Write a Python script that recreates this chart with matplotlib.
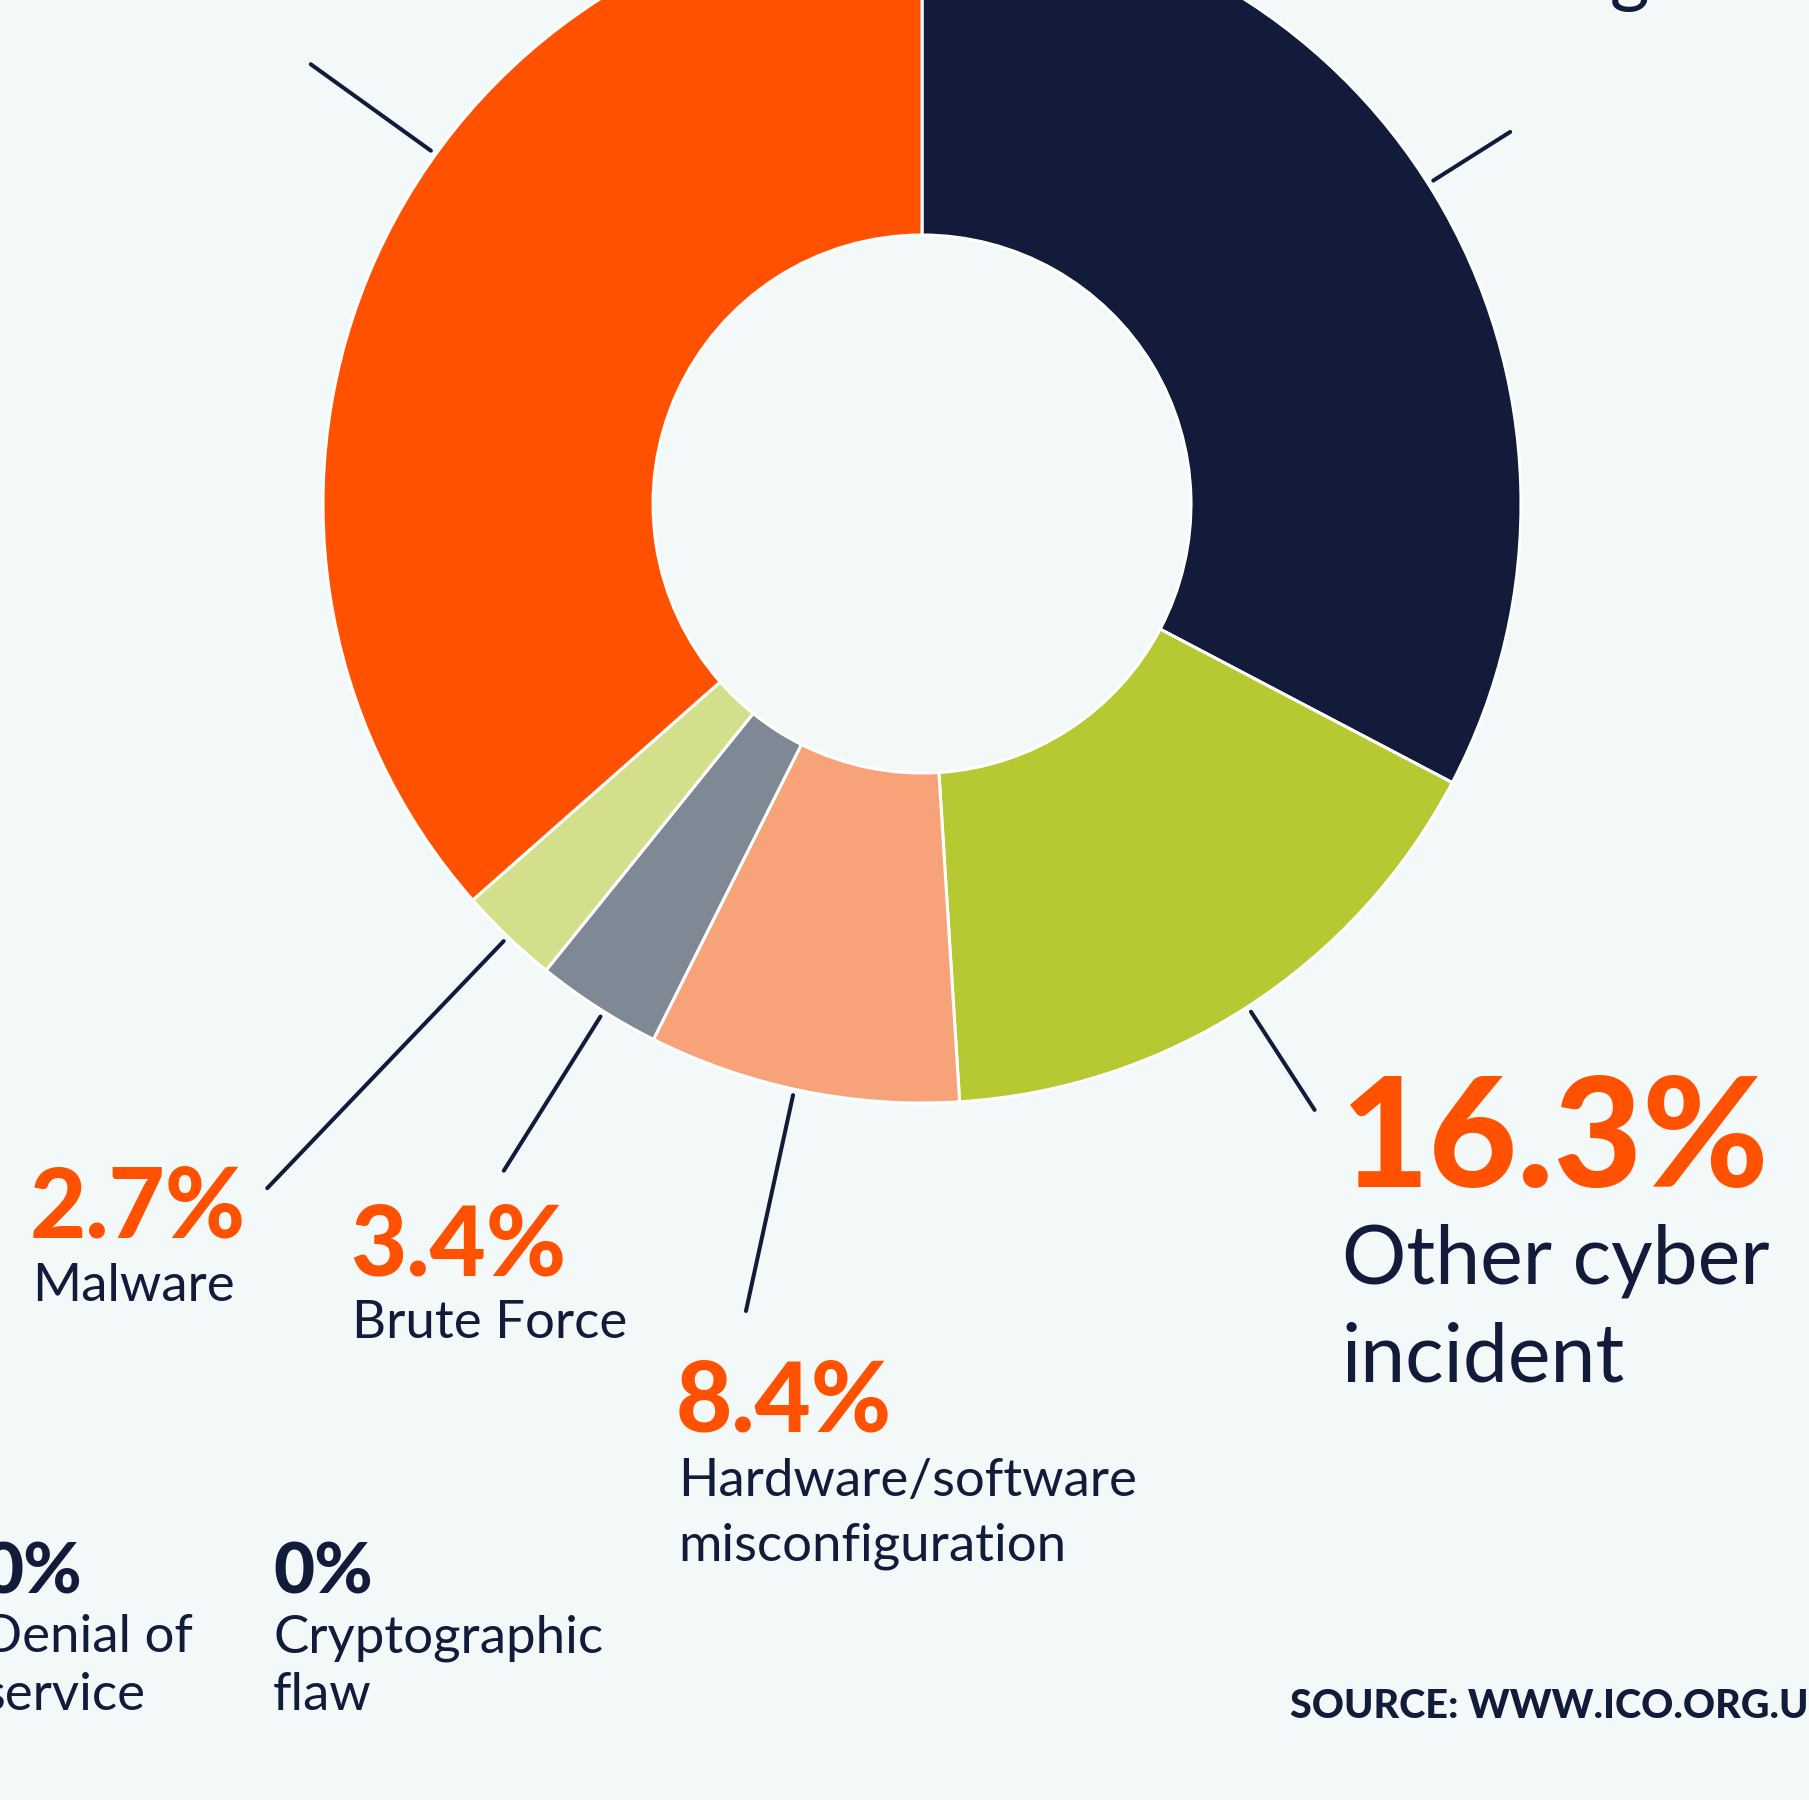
import matplotlib
matplotlib.use("Agg")
import matplotlib.pyplot as plt
import numpy as np

# ---------------- data ----------------
categories = ["Phishing", "Other cyber incident", "Hardware/software misconfiguration",
              "Brute Force", "Malware", "Ransomware"]
values = [32.7, 16.3, 8.4, 3.4, 2.7, 36.5]
pct_labels = ["32.7%", "16.3%", "8.4%", "3.4%", "2.7%", "36.5%"]
zero_categories = ["Denial of\nservice", "Cryptographic\nflaw"]
zero_labels = ["0%", "0%"]
source_text = "SOURCE: WWW.ICO.ORG.UK"

# ---------------- style ----------------
W, H = 1809, 1800
BG = "#F3F8F8"
NAVY = "#121C3A"
ORANGE = "#FF5100"
colors = ["#121C3A", "#B6C933", "#F8A27A", "#7F8895", "#D3DF8B", "#FF5100"]
plt.rcParams["font.family"] = ["Lato", "DejaVu Sans"]

fig = plt.figure(figsize=(W / 100, H / 100), dpi=100, facecolor=BG)
ax = fig.add_axes([0, 0, 1, 1])
ax.set_facecolor(BG)

cx, cy = 922, H - 504
R_out, R_in = 599, 269
wedges, _ = ax.pie(values, colors=colors, startangle=90, counterclock=False,
                   center=(cx, cy), radius=R_out, frame=True,
                   wedgeprops=dict(width=R_out - R_in, edgecolor="white", linewidth=2.2))
ax.set_xlim(0, W)
ax.set_ylim(0, H)
ax.set_aspect("auto")
ax.axis("off")

# leader lines: (fraction along wedge, start radius, end radius)
leaders = [(0.51, 605, 696), (0.5, 605, 722), (0.474, 605, 826),
           (0.554, 605, 787), (0.5, 605, 947), (0.413, 605, 753)]
for w, (frac, r0, r1) in zip(wedges, leaders):
    a = np.deg2rad(w.theta1 + frac * (w.theta2 - w.theta1))
    ax.plot([cx + r0 * np.cos(a), cx + r1 * np.cos(a)],
            [cy + r0 * np.sin(a), cy + r1 * np.sin(a)],
            color=NAVY, lw=2.9, solid_capstyle="round")


def put(x, y, s, **kw):
    ax.text(x, H - y, s, ha="left", va="baseline", **kw)


# label layout: index -> (x, pct baseline, pct size, name baseline, name size, line spacing)
layout = {
    1: (1340, 1187, 110, 1284, 58, 98),
    2: (676, 1431, 70, 1496, 38, 64),
    3: (350, 1275, 70, 1338, 38, 64),
    4: (30, 1238, 70, 1301, 38, 64),
}
for i, (x, yp, sp, yn, sn, ls) in layout.items():
    put(x, yp, pct_labels[i], color=ORANGE, fontsize=sp, fontweight="black")
    lines = {1: ["Other cyber", "incident"],
             2: ["Hardware/software", "misconfiguration"]}.get(i, [categories[i]])
    for k, ln in enumerate(lines):
        put(x + 2, yn + k * ls, ln, color=NAVY, fontsize=sn)

# partially visible top-right label
ax.text(1650, H + 3, categories[0], ha="right", va="baseline", color=NAVY, fontsize=55)

# zero categories
for k, (lab, name) in enumerate(zip(zero_labels, zero_categories)):
    x = -18 + k * 291
    put(x, 1594, lab, color=NAVY, fontsize=51, fontweight="black")
    for j, ln in enumerate(name.split("\n")):
        put(x, 1652 + j * 58, ln, color=NAVY, fontsize=38)

put(1290, 1718, source_text, color=NAVY, fontsize=28.5, fontweight="black")

fig.savefig("out.png", dpi=100, facecolor=BG)
